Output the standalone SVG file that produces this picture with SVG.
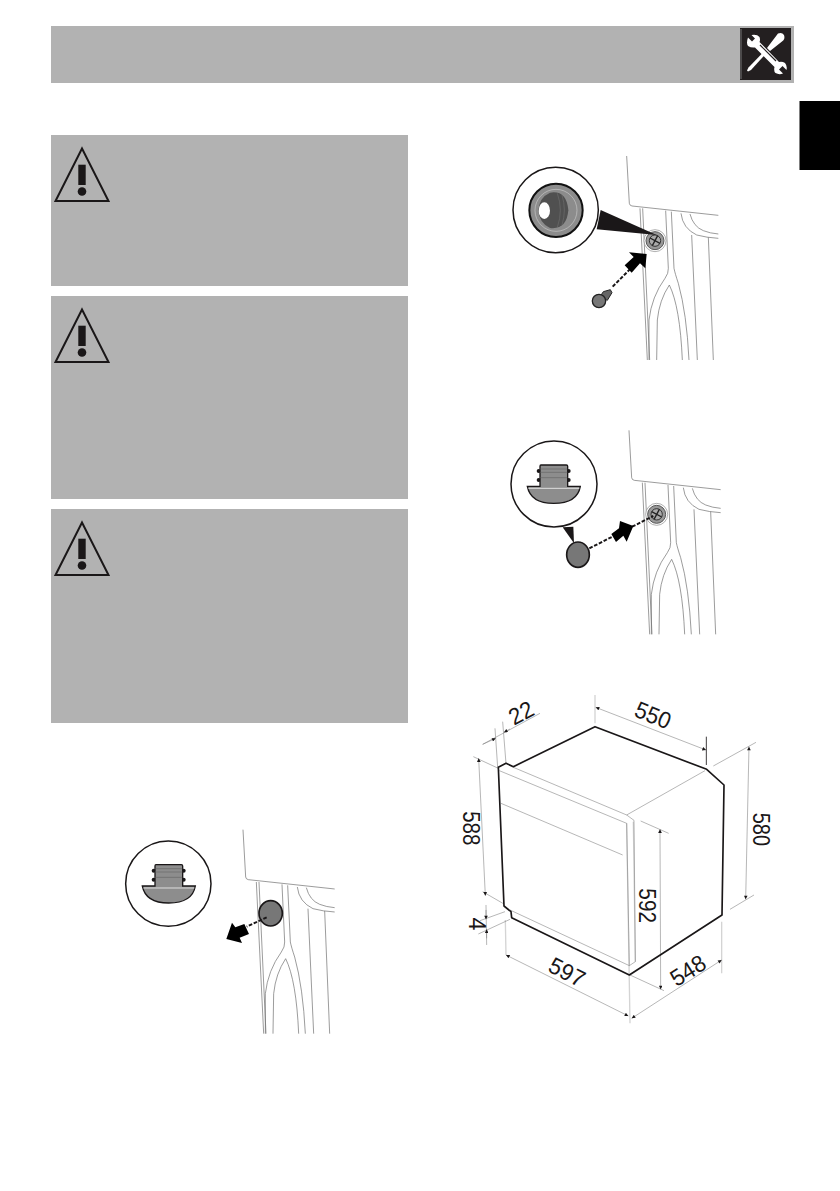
<svg xmlns="http://www.w3.org/2000/svg" width="840" height="1191" viewBox="0 0 840 1191">
<style>
.panel{fill:#b2b2b2}
.cab{fill:none;stroke:#6a6a6a;stroke-width:2}
.out{fill:none;stroke:#1a1718;stroke-width:5;stroke-linejoin:round}
.thin{fill:none;stroke:#777;stroke-width:1.6}
.pale{fill:none;stroke:#d4d4d4;stroke-width:4}
.dim{fill:none;stroke:#777;stroke-width:1.6;marker-start:url(#ah);marker-end:url(#ah)}
.num{font-family:"Liberation Sans",Arial,sans-serif;font-size:70px;fill:#1a1718;text-anchor:middle}
.dash{fill:none;stroke:#1a1718;stroke-width:6;stroke-dasharray:11 5}
.lens{fill:#fff;stroke:#1a1718;stroke-width:4.500}
</style>
<defs>
<marker id="ah" viewBox="0 0 10 10" refX="10" refY="5" markerWidth="15" markerHeight="11" markerUnits="userSpaceOnUse" orient="auto-start-reverse"><path d="M0,0L10,5L0,10Z" fill="#1a1718"/></marker>
<g id="warn"><path d="M82,148.500L55.500,201H108.500Z" fill="none" stroke="#1a1718" stroke-width="2"/><rect x="78.300" y="164.700" width="7.400" height="20.300" fill="#1a1718"/><circle cx="82" cy="191.500" r="4.300" fill="#1a1718"/></g>
<g id="cabinet">
<path class="cab" d="M380,48L388,190Q389,197 396,198L655,226"/>
<path class="cab" d="M420,205L442,660M428,205L449,660"/>
<path class="cab" d="M497,212L505,385Q506,400 495,415Q455,470 447,540L447,660"/>
<path class="cab" d="M514,215L522,385Q525,400 535,430Q560,520 567,660"/>
<path class="cab" d="M470,660L472,540Q478,480 508,435Q540,500 547,660"/>
<path class="cab" d="M543,220Q548,265 590,285Q620,293 655,295M570,222Q580,260 610,272Q630,280 655,282"/>
<path class="cab" d="M575,285L592,660M625,292L640,660"/>
</g>
<g id="hole">
<circle cx="0" cy="0" r="33" fill="#fff" stroke="#888" stroke-width="2"/>
<circle cx="0" cy="0" r="27" fill="#999" stroke="#555" stroke-width="3"/>
<circle cx="0" cy="0" r="17" fill="#aaa" stroke="#333" stroke-width="3"/>
<path d="M-15,-8L15,8M-8,15L8,-15" stroke="#222" stroke-width="4"/>
</g>
<g id="plug">
<circle cx="146" cy="20" r="6" fill="#1a1718"/><circle cx="146" cy="47" r="6" fill="#1a1718"/>
<circle cx="236" cy="20" r="6" fill="#1a1718"/><circle cx="236" cy="47" r="6" fill="#1a1718"/>
<path d="M153,2H229Q233,2 233,6V66H271Q262,117 191,117Q122,117 112,66H150V6Q150,2 153,2Z" fill="#8d8d8d" stroke="#1a1718" stroke-width="4"/>
<path d="M151,14H232M151,24H232M151,40H232" stroke="#666" stroke-width="2" fill="none"/>
<path d="M115,72H268" stroke="#eee" stroke-width="2.500" fill="none"/>
</g>
</defs>

<g id="header">
<rect class="panel" x="51" y="26" width="743" height="57"/>
<rect x="740" y="28" width="51" height="52" fill="#231f20"/>
<path d="M741,29V79" stroke="#777" stroke-width="1"/>
<g fill="#fff">
<path d="M778,33.500Q782,32 784,35Q785.500,39 782,41.500L770,51L767,48Z"/>
<path d="M766,49.500L768,51.500L751,70L748,71.500L747,70.500L748.500,67.500Z"/>
<path d="M748,37.500L752,41.500L755,38.500L751.500,35Q757,34 759.500,37Q760.500,40 759.500,42L779,62Q782,61 785,63Q787.500,66 786.500,70L782.500,66L779,69.500L783,73.500Q779,75 775.500,73Q773.500,71 774.500,67L755,47.500Q751,48 748,46Q746,43 748,37.500Z"/>
</g>
<path d="M760,45L776,61" stroke="#231f20" stroke-width="1.200"/>
</g>
<rect id="tab" x="799.500" y="101" width="40.500" height="69" fill="#000"/>

<g id="warning-1"><rect class="panel" x="51" y="135" width="357" height="151"/><use href="#warn"/></g>
<g id="warning-2"><rect class="panel" x="51" y="296" width="357" height="203"/><use href="#warn" y="161"/></g>
<g id="warning-3"><rect class="panel" x="51" y="509" width="357" height="214"/><use href="#warn" y="374"/></g>

<g id="figure-screw" transform="translate(500,140) scale(.33333)">
<use href="#cabinet"/>
<use href="#hole" x="465" y="302"/>
<circle class="lens" cx="167" cy="210" r="128"/>
<circle cx="168" cy="211" r="80" fill="#8c8c8c" stroke="#111" stroke-width="6"/>
<circle cx="168" cy="211" r="63" fill="none" stroke="#ddd" stroke-width="1.500"/>
<path d="M150,158Q200,150 205,211Q200,270 150,264Q118,250 115,211Q118,172 150,158Z" fill="#505050"/>
<path d="M172,160Q190,210 172,262M186,165Q200,210 186,255" fill="none" stroke="#777" stroke-width="1.500"/>
<ellipse cx="133" cy="212" rx="17" ry="25" fill="#fff"/>
<path d="M302,210L470,285L290,268Z" fill="#1a1718"/>
<path class="dash" d="M338,440L432,345"/>
<path d="M387,337L440,342L436,385L420,370L395,398L374,376L401,351Z" fill="#000"/>
<path d="M310,455L331,449L336,458L322,481L300,470Z" fill="#666" stroke="#222" stroke-width="3"/>
<circle cx="297" cy="483" r="20" fill="#777" stroke="#222" stroke-width="4"/>
</g>

<g id="figure-plug-insert" transform="translate(490,420) scale(.33333)">
<use href="#cabinet" x="37" y="-17"/>
<use href="#hole" x="500" y="283"/>
<circle class="lens" cx="192" cy="192" r="129"/>
<use href="#plug" x="0" y="133"/>
<path d="M218,322L250,320L252,370Z" fill="#1a1718"/>
<ellipse cx="264" cy="404" rx="34" ry="38" fill="#777" stroke="#1a1718" stroke-width="5"/>
<path class="dash" d="M298,385L490,288"/>
<path d="M390,303L430,318L410,365L400,347L378,366L364,342L387,325Z" fill="#000"/>
</g>

<g id="figure-plug-remove" transform="translate(110,820) scale(.33333)">
<use href="#cabinet" x="19" y="-19"/>
<circle class="lens" cx="175" cy="191" r="128"/>
<use href="#plug" x="-15" y="132"/>
<ellipse cx="482" cy="280" rx="35" ry="38" fill="#777" stroke="#1a1718" stroke-width="5"/>
<path class="dash" d="M470,292L410,320"/>
<path d="M349,357L366,308L376,322L403,312L417,342L389,353L396,369Z" fill="#000"/>
</g>

<g id="figure-dimensions" transform="translate(430,680) scale(.33333)">
<path class="pale" d="M590,430L600,1030M610,425L616,845"/>
<path class="pale" d="M226,720L228,825M875,725V880M495,45V130"/>
<path class="thin" d="M250,262L590,405L612,421L616,845L598,857M208,272L590,430L598,857M213,370L578,525M240,690L598,857M590,405L825,272"/>
<path class="thin" d="M158,193L330,100M195,145L203,262M218,125L228,250"/>
<path d="M158,193L197,175" class="thin" marker-end="url(#ah)"/>
<path d="M240,147L222,157" class="thin" marker-end="url(#ah)"/>
<path class="thin" d="M130,230L205,265M158,635L222,672M850,258L978,187M900,688L972,645M632,423L716,460M600,885L702,932M150,722L225,695M145,762L240,718"/>
<path class="dim" d="M497,82L828,210"/>
<path d="M829,170V255" fill="none" stroke="#1a1718" stroke-width="2.500"/>
<path class="dim" d="M146,235L166,647"/>
<path class="dim" d="M957,200L947,658"/>
<path class="dim" d="M690,448L692,928"/>
<path class="thin" d="M168,675L170,795"/>
<path d="M168,690V718" class="thin" marker-end="url(#ah)"/>
<path d="M170,775V748" class="thin" marker-end="url(#ah)"/>
<path class="dim" d="M228,825L595,1008"/>
<path class="dim" d="M605,1015L875,840"/>
<path class="out" d="M205,262L228,250L250,260L495,140L830,268L882,315L876,705L598,885L245,713L243,695L222,678Z"/>
<text class="num" transform="translate(660,128) rotate(22)" textLength="110" lengthAdjust="spacingAndGlyphs">550</text>
<text class="num" transform="translate(285,120) rotate(-28)" textLength="74" lengthAdjust="spacingAndGlyphs">22</text>
<text class="num" transform="translate(98,445) rotate(90)" textLength="103" lengthAdjust="spacingAndGlyphs">588</text>
<text class="num" transform="translate(968,448) rotate(90)" textLength="100" lengthAdjust="spacingAndGlyphs">580</text>
<text class="num" transform="translate(626,677) rotate(90)" textLength="104" lengthAdjust="spacingAndGlyphs">592</text>
<text class="num" transform="translate(118,732) rotate(90)">4</text>
<text class="num" transform="translate(400,898) rotate(27)" textLength="112" lengthAdjust="spacingAndGlyphs">597</text>
<text class="num" transform="translate(787,892) rotate(-32)" textLength="112" lengthAdjust="spacingAndGlyphs">548</text>
</g>
</svg>
